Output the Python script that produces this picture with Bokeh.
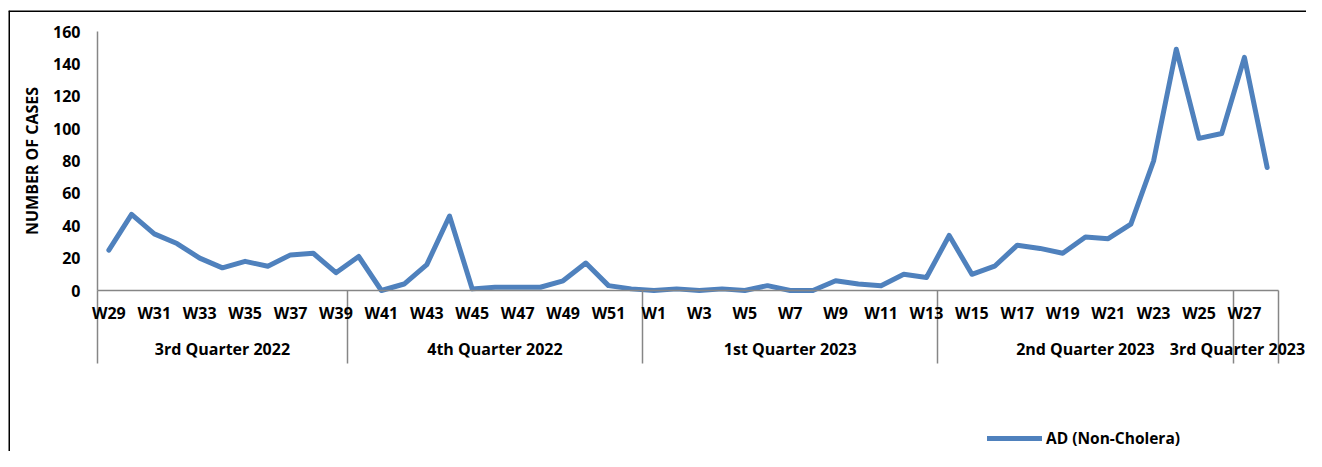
from bokeh.plotting import figure
from bokeh.models import FixedTicker, LinearAxis, Legend, LegendItem, Range1d, Span
from bokeh.embed import file_html
from bokeh.resources import INLINE

# ---- data ----
weeks = ["W29", "W30", "W31", "W32", "W33", "W34", "W35", "W36", "W37", "W38", "W39",
         "W40", "W41", "W42", "W43", "W44", "W45", "W46", "W47", "W48", "W49", "W50", "W51", "W52",
         "W1", "W2", "W3", "W4", "W5", "W6", "W7", "W8", "W9", "W10", "W11", "W12", "W13",
         "W14", "W15", "W16", "W17", "W18", "W19", "W20", "W21", "W22", "W23", "W24", "W25", "W26",
         "W27", "W28"]
cases = [25, 47, 35, 29, 20, 14, 18, 15, 22, 23, 11,
         21, 0, 4, 16, 46, 1, 2, 2, 2, 6, 17, 3, 1,
         0, 1, 0, 1, 0, 3, 0, 0, 6, 4, 3, 10, 8,
         34, 10, 15, 28, 26, 23, 33, 32, 41, 80, 149, 94, 97,
         144, 76]
quarters = ["3rd Quarter 2022", "4th Quarter 2022", "1st Quarter 2023",
            "2nd Quarter 2023", "3rd Quarter 2023"]
quarter_sizes = [11, 13, 13, 13, 2]
series_name = "AD (Non-Cholera)"
y_ticks = [0, 20, 40, 60, 80, 100, 120, 140, 160]

FONT = "Open Sans"
BLUE = "#4F81BD"
GRAY = "#868686"

# ---- layout geometry (pixels) ----
W, H = 1306, 451
FL, FT = 8, 10              # frame (chart area) left / top
AX_L, AX_R = 97, 1278       # plot area left / right
Y0_PX, YTOP_PX = 290, 31    # pixel rows of y = 0 and y = max

n = len(weeks)
x = list(range(n))
step = (AX_R - AX_L) / n
xs = -0.5 - (AX_L - FL) / step
xe = xs + (W - FL) / step
ymax = y_ticks[-1]
k = (Y0_PX - YTOP_PX) / ymax
ye = ymax + (YTOP_PX - FT) / k
ys = ye - (H - FT) / k

# group boundaries / centres derived from the group sizes
bounds = [-0.5]
for s in quarter_sizes:
    bounds.append(bounds[-1] + s)
centers = [(bounds[i] + bounds[i + 1]) / 2 for i in range(len(quarter_sizes))]
label_pos = centers[:-1] + [min(centers[-1], xe - 69 / step)]

p = figure(width=W, height=H, output_backend="svg", toolbar_location=None,
           x_range=Range1d(xs, xe), y_range=Range1d(ys, ye),
           x_axis_location=None, y_axis_location=None,
           min_border_left=FL, min_border_top=FT, min_border_right=0, min_border_bottom=0)
p.outline_line_color = None
p.xgrid.visible = False
p.ygrid.visible = False

# chart-area border (left / top)
p.add_layout(Span(location=xs, dimension="height", line_color="#000000", line_width=3))
p.add_layout(Span(location=ye, dimension="width", line_color="#000000", line_width=3))

r = p.line(x, cases, line_color=BLUE, line_width=5, line_join="round", line_cap="round")

def style_labels(ax, size):
    ax.major_label_text_font = FONT
    ax.major_label_text_font_style = "bold"
    ax.major_label_text_font_size = size
    ax.major_label_text_color = "#000000"

# group dividers
da = LinearAxis(fixed_location=0, ticker=FixedTicker(ticks=[], minor_ticks=bounds))
da.axis_line_color = None
da.major_tick_line_color = None
da.minor_tick_line_color = GRAY
da.minor_tick_line_width = 1.5
da.minor_tick_out = 73
da.minor_tick_in = 0
p.add_layout(da, "below")

# week axis
xa = LinearAxis(fixed_location=0, bounds=(bounds[0], bounds[-1]),
                ticker=FixedTicker(ticks=[i for i in x if i % 2 == 0], minor_ticks=[]),
                major_label_overrides={i: weeks[i] for i in x if i % 2 == 0})
xa.axis_line_color = GRAY
xa.axis_line_width = 1.5
xa.major_tick_line_color = None
xa.minor_tick_line_color = None
xa.major_tick_out = 0
xa.major_tick_in = 0
xa.minor_tick_out = 0
xa.major_label_standoff = 11
style_labels(xa, "16px")
p.add_layout(xa, "below")

# quarter axis
qa = LinearAxis(fixed_location=0, ticker=FixedTicker(ticks=label_pos, minor_ticks=[]),
                major_label_overrides={c: q for c, q in zip(label_pos, quarters)})
qa.axis_line_color = None
qa.major_tick_line_color = None
qa.minor_tick_line_color = None
qa.major_tick_out = 0
qa.major_tick_in = 0
qa.minor_tick_out = 0
qa.major_label_standoff = 47
style_labels(qa, "16px")
p.add_layout(qa, "below")

# y axis
ya = LinearAxis(fixed_location=bounds[0], bounds=(0, ymax),
                ticker=FixedTicker(ticks=y_ticks, minor_ticks=[]))
ya.axis_line_color = GRAY
ya.axis_line_width = 1.5
ya.major_tick_line_color = None
ya.minor_tick_line_color = None
ya.major_tick_out = 0
ya.major_tick_in = 0
ya.minor_tick_out = 0
ya.major_label_standoff = 17
style_labels(ya, "16px")
ya.axis_label = "NUMBER OF CASES"
ya.axis_label_text_font = FONT
ya.axis_label_text_font_style = "bold"
ya.axis_label_text_font_size = "16px"
ya.axis_label_text_color = "#000000"
ya.axis_label_standoff = 7
p.add_layout(ya, "left")

legend = Legend(items=[LegendItem(label=series_name, renderers=[r])],
                location=(AX_L - FL + 890, 2))
legend.border_line_color = None
legend.background_fill_alpha = 0
legend.padding = 0
legend.margin = 0
legend.glyph_width = 55
legend.glyph_height = 20
legend.label_standoff = 4
legend.label_text_font = FONT
legend.label_text_font_style = "bold"
legend.label_text_font_size = "15.5px"
legend.label_text_color = "#000000"
p.add_layout(legend)

open("out.html", "w").write(file_html(p, INLINE))
